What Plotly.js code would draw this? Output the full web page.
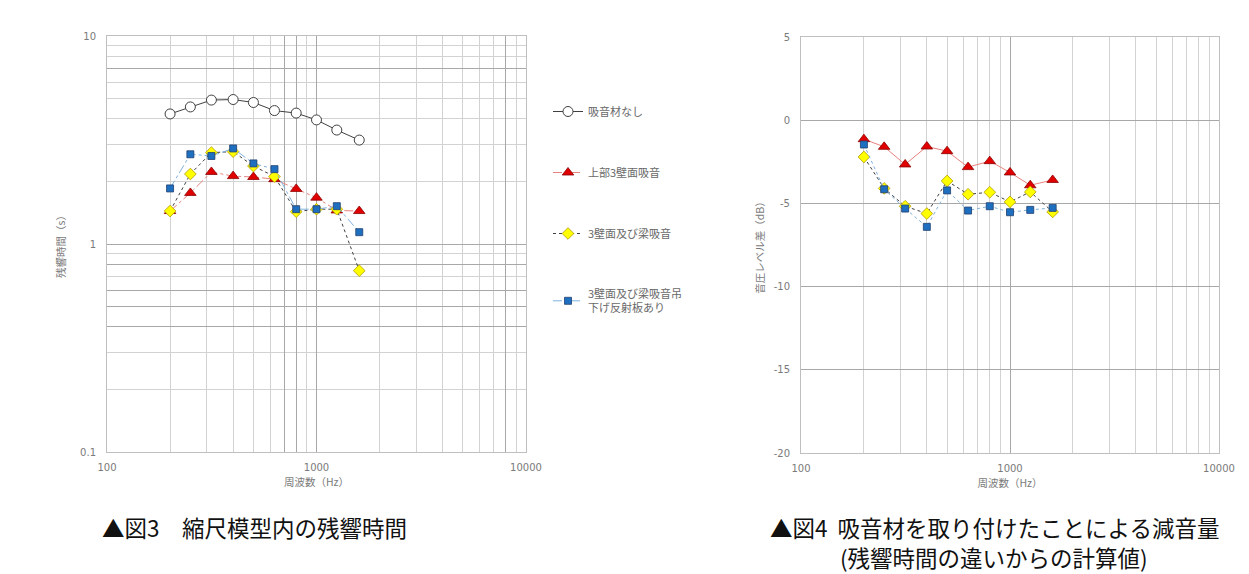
<!DOCTYPE html>
<html>
<head>
<meta charset="utf-8">
<script src="https://cdn.plot.ly/plotly-3.0.1.min.js"></script>
<style>html,body{margin:0;padding:0;background:#fff;}#chart{width:1249px;height:574px;}</style>
</head>
<body>
<div id="chart"></div>
<script>
// ---- data ----
const freq = [200, 250, 315, 400, 500, 630, 800, 1000, 1250, 1600];

// Fig.3 reverberation time (s)
const rtNoAbsorber = [4.22, 4.56, 4.92, 4.95, 4.79, 4.38, 4.26, 3.95, 3.53, 3.16];
const rtUpper3Walls = [1.44, 1.76, 2.22, 2.12, 2.10, 2.05, 1.84, 1.67, 1.45, 1.44];
const rt3WallsBeam = [1.44, 2.17, 2.75, 2.78, 2.37, 2.11, 1.43, 1.47, 1.47, 0.744];
const rt3WallsBeamReflector = [1.85, 2.70, 2.65, 2.88, 2.44, 2.29, 1.47, 1.47, 1.52, 1.14];

// Fig.4 sound pressure level difference (dB)
const dbUpper3Walls = [-1.14, -1.60, -2.66, -1.58, -1.86, -2.82, -2.46, -3.14, -3.91, -3.59];
const db3WallsBeam = [-2.21, -4.10, -5.17, -5.61, -3.65, -4.45, -4.33, -4.91, -4.31, -5.51];
const db3WallsBeamReflector = [-1.46, -4.15, -5.31, -6.41, -4.22, -5.43, -5.17, -5.53, -5.39, -5.27];

const seriesNames = ['吸音材なし', '上部3壁面吸音', '3壁面及び梁吸音', '3壁面及び梁吸音吊<br>下げ反射板あり'];

// tick labels (darker grid lines without labels get an empty label)
const xTickVals = [100, 700, 800, 1000, 8000, 10000];
const xTickText = ['100', '', '', '1000', '', '10000'];
const yTickVals1 = [0.1, 0.4, 0.5, 0.6, 0.8, 1, 7, 10];
const yTickText1 = ['0.1', '', '', '', '', '1', '', '10'];
const xTickVals2 = [100, 1000, 10000];
const xTickText2 = ['100', '1000', '10000'];
const yTickVals2 = [-20, -15, -10, -5, 0, 5];
const yTickText2 = ['-20', '-15', '-10', '-5', '0', '5'];

// ---- styles ----
const tickFont = {family: 'DejaVu Sans, sans-serif', size: 10, color: '#7a7a7a'};
const titleFont = {family: 'Noto Sans CJK JP, sans-serif', size: 10.5, color: '#7a7a7a'};
const captionFont = {family: 'Noto Sans CJK JP, sans-serif', size: 22.5, color: '#111111', weight: 400};
const lightGrid = '#d2d2d2';
const darkGrid = '#a8a8a8';

const traces = [
  {x: freq, y: rtNoAbsorber, name: seriesNames[0], legendgroup: 'a', xaxis: 'x', yaxis: 'y',
   mode: 'lines+markers', line: {color: '#404040', width: 1},
   marker: {symbol: 'circle', size: 10, color: '#ffffff', line: {color: '#404040', width: 1}}},
  {x: freq, y: rtUpper3Walls, name: seriesNames[1], legendgroup: 'b', xaxis: 'x', yaxis: 'y',
   mode: 'lines+markers', line: {color: '#e8827e', width: 1, dash: 'dashdot'},
   marker: {symbol: 'triangle-up', size: 10, color: '#e00000', line: {color: '#8b0000', width: 0.8}}},
  {x: freq, y: rt3WallsBeam, name: seriesNames[2], legendgroup: 'c', xaxis: 'x', yaxis: 'y',
   mode: 'lines+markers', line: {color: '#404040', width: 1, dash: 'dot'},
   marker: {symbol: 'diamond', size: 9, color: '#ffff00', line: {color: '#b59b00', width: 0.8}}},
  {x: freq, y: rt3WallsBeamReflector, name: seriesNames[3], legendgroup: 'd', xaxis: 'x', yaxis: 'y',
   mode: 'lines+markers', line: {color: '#7fb2de', width: 1, dash: 'dashdot'},
   marker: {symbol: 'square', size: 7, color: '#1f6fc0', line: {color: '#1f3f6f', width: 0.8}}},
  {x: freq, y: dbUpper3Walls, name: seriesNames[1], showlegend: false, xaxis: 'x2', yaxis: 'y2',
   mode: 'lines+markers', line: {color: '#e8827e', width: 1},
   marker: {symbol: 'triangle-up', size: 10, color: '#e00000', line: {color: '#8b0000', width: 0.8}}},
  {x: freq, y: db3WallsBeam, name: seriesNames[2], showlegend: false, xaxis: 'x2', yaxis: 'y2',
   mode: 'lines+markers', line: {color: '#404040', width: 1, dash: 'dot'},
   marker: {symbol: 'diamond', size: 9, color: '#ffff00', line: {color: '#b59b00', width: 0.8}}},
  {x: freq, y: db3WallsBeamReflector, name: seriesNames[3], showlegend: false, xaxis: 'x2', yaxis: 'y2',
   mode: 'lines+markers', line: {color: '#7fb2de', width: 1, dash: 'dot'},
   marker: {symbol: 'square', size: 7, color: '#1f6fc0', line: {color: '#1f3f6f', width: 0.8}}}
];

function logX(domain, vals, text) {
  return {
    type: 'log', range: [2, 4], domain: domain, fixedrange: true,
    tickmode: 'array', tickvals: vals, ticktext: text,
    showgrid: true, gridcolor: darkGrid, gridwidth: 1,
    minor: {dtick: 'D1', showgrid: true, gridcolor: lightGrid, gridwidth: 1, ticks: ''},
    showline: true, linecolor: '#bfbfbf', linewidth: 1, mirror: true,
    ticks: '', ticklabelstandoff: 6, tickfont: tickFont, zeroline: false,
    title: {text: '周波数（Hz）', font: titleFont, standoff: 6}
  };
}

const layout = {
  width: 1249, height: 574,
  margin: {l: 0, r: 0, t: 0, b: 0},
  paper_bgcolor: '#ffffff', plot_bgcolor: '#ffffff',
  showlegend: true,
  legend: {
    x: 548 / 1249, xanchor: 'left', y: 1 - 97 / 574, yanchor: 'top',
    traceorder: 'grouped', tracegroupgap: 42,
    font: {family: 'Noto Sans CJK JP, sans-serif', size: 11, color: '#6a6a6a'},
    bgcolor: 'rgba(0,0,0,0)', itemwidth: 30
  },
  xaxis: Object.assign(logX([107 / 1249, 526 / 1249], xTickVals, xTickText), {anchor: 'y'}),
  yaxis: {
    type: 'log', range: [-1, 1], domain: [1 - 452 / 574, 1 - 36 / 574], anchor: 'x', fixedrange: true,
    tickmode: 'array', tickvals: yTickVals1, ticktext: yTickText1,
    showgrid: true, gridcolor: darkGrid, gridwidth: 1,
    minor: {dtick: 'D1', showgrid: true, gridcolor: lightGrid, gridwidth: 1, ticks: ''},
    showline: true, linecolor: '#bfbfbf', linewidth: 1, mirror: true,
    ticks: '', ticklabelstandoff: 8, tickfont: tickFont, zeroline: false,
    title: {text: '残響時間（s）', font: titleFont, standoff: 12}
  },
  xaxis2: Object.assign(logX([801 / 1249, 1219 / 1249], xTickVals2, xTickText2), {anchor: 'y2'}),
  yaxis2: {
    type: 'linear', range: [-20, 5], domain: [1 - 453 / 574, 1 - 37 / 574], anchor: 'x2', fixedrange: true,
    tickmode: 'array', tickvals: yTickVals2, ticktext: yTickText2,
    showgrid: true, gridcolor: darkGrid, gridwidth: 1,
    showline: true, linecolor: '#bfbfbf', linewidth: 1, mirror: true,
    ticks: '', ticklabelstandoff: 8, tickfont: tickFont, zeroline: false,
    title: {text: '音圧レベル差（dB）', font: titleFont, standoff: 6}
  },
  annotations: [
    {text: '▲図3　縮尺模型内の残響時間', xref: 'paper', yref: 'paper',
     x: 101 / 1249, y: 1 - 527 / 574, xanchor: 'left', yanchor: 'middle', showarrow: false,
     borderpad: 0, font: captionFont},
    {text: '▲図4  吸音材を取り付けたことによる減音量', xref: 'paper', yref: 'paper',
     x: 994 / 1249, y: 1 - 527 / 574, xanchor: 'center', yanchor: 'middle', showarrow: false,
     borderpad: 0, font: captionFont},
    {text: '(残響時間の違いからの計算値)', xref: 'paper', yref: 'paper',
     x: 994 / 1249, y: 1 - 557 / 574, xanchor: 'center', yanchor: 'middle', showarrow: false,
     borderpad: 0, font: captionFont}
  ]
};

Plotly.newPlot('chart', traces, layout, {displayModeBar: false, staticPlot: true});
</script>
</body>
</html>
